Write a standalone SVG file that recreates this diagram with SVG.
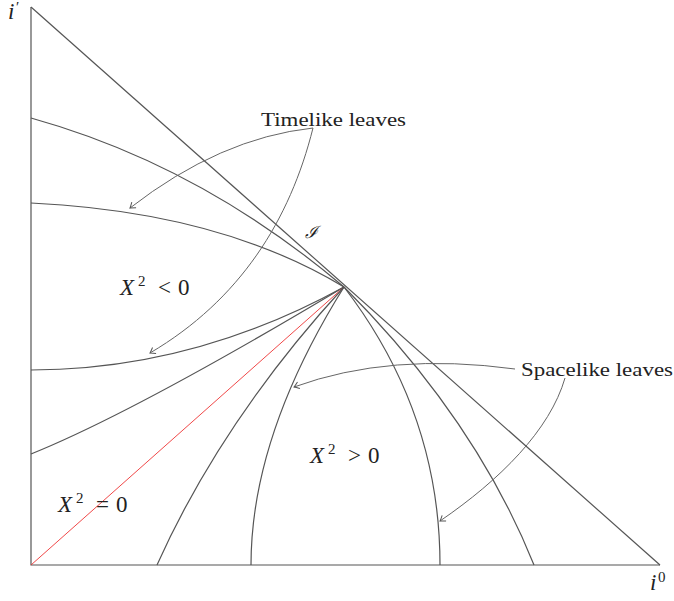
<svg xmlns="http://www.w3.org/2000/svg" width="674" height="601" viewBox="0 0 674 601">
<style>
.ln{fill:none;stroke:#555;stroke-width:1.2}
.ar{fill:none;stroke:#666;stroke-width:1;marker-end:url(#ah)}
.tx{font-family:"Liberation Serif",serif;font-size:18px;fill:#222}
.mt{font-family:"Liberation Serif",serif;font-size:23px;font-style:italic;fill:#222}
.rm{font-family:"Liberation Serif",serif;font-size:23px;fill:#222}
.up{font-family:"Liberation Serif",serif;font-size:15px;fill:#222}
</style>
<defs>
<marker id="ah" markerWidth="10" markerHeight="10" refX="0" refY="0" viewBox="-6 -5 8 10" orient="auto" markerUnits="userSpaceOnUse">
<path d="M-5,-3.5 Q-1.5,-0.8 0,0 Q-1.5,0.8 -5,3.5" fill="none" stroke="#555" stroke-width="1"/>
</marker>
</defs>
<g id="connectors">
<path class="ln" d="M31,7 L31,565 L660,565"/>
<path class="ln" d="M31,7 L660,565"/>
<path class="ln" d="M31,118 Q200,165 344,287"/>
<path class="ln" d="M31,203 Q220,212 344,287"/>
<path class="ln" d="M31,370 Q193,370 344,287"/>
<path class="ln" d="M31,454 Q135,412 344,287"/>
<path d="M31,565 L344,287" fill="none" stroke="#e33" stroke-width="0.9"/>
<path class="ln" d="M157,565 Q222,420 344,287"/>
<path class="ln" d="M251,565 Q251,436 344,287"/>
<path class="ln" d="M440,565 Q440,412 344,287"/>
<path class="ln" d="M534,565 Q475,418 344,287"/>
<path class="ar" d="M313,128 Q220,138 130,208"/>
<path class="ar" d="M313,128 C290,220 240,300 150,353"/>
<path class="ar" d="M515,369 Q390,352 294,387"/>
<path class="ar" d="M565,378 C550,430 500,480 440,521"/>
</g>
<g id="timelike-label"><text class="tx" x="261" y="126" textLength="145" lengthAdjust="spacingAndGlyphs">Timelike leaves</text></g>
<g id="spacelike-label"><text class="tx" x="521" y="376" textLength="152" lengthAdjust="spacingAndGlyphs">Spacelike leaves</text></g>
<g id="scri"><text x="305" y="238" style="font-family:'DejaVu Serif',serif;font-size:17px;font-style:italic;fill:#222">ℐ</text></g>
<g id="neg"><text class="mt" x="120" y="295">X</text><text class="up" x="138" y="286">2</text><text class="rm" x="158" y="295">&lt;</text><text class="rm" x="178" y="295">0</text></g>
<g id="pos"><text class="mt" x="310" y="463">X</text><text class="up" x="328" y="454">2</text><text class="rm" x="348" y="463">&gt;</text><text class="rm" x="368" y="463">0</text></g>
<g id="zero"><text class="mt" x="58" y="512">X</text><text class="up" x="76" y="503">2</text><text class="rm" x="96" y="512">=</text><text class="rm" x="116" y="512">0</text></g>
<g id="iprime"><text class="mt" x="8" y="19">i</text><text class="up" x="16" y="12">′</text></g>
<g id="i0"><text class="mt" x="650" y="590">i</text><text class="up" x="658" y="582">0</text></g>
</svg>
